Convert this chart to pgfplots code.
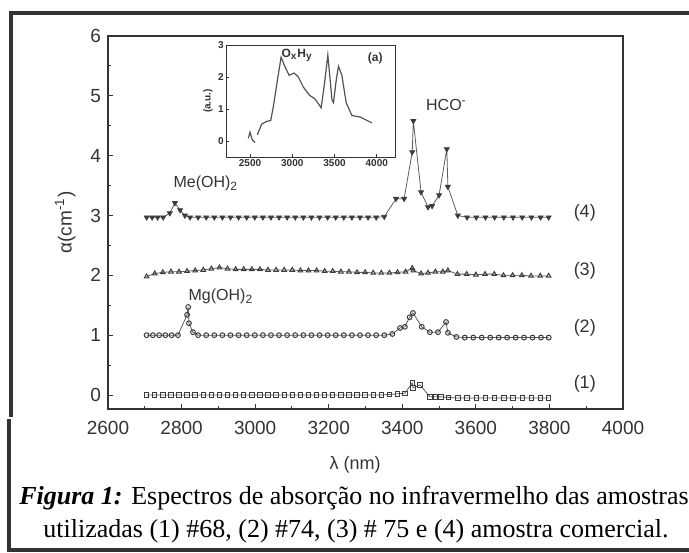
\documentclass[border=0pt]{standalone}
\usepackage{fontspec}
\setmainfont{Liberation Sans}
\newfontfamily\capfont{Liberation Serif}
\usepackage{pgfplots}
\pgfplotsset{compat=1.18}
\definecolor{ink}{HTML}{333333}
\definecolor{mk}{HTML}{3c3c3c}

\begin{document}
\begin{tikzpicture}
% page frame and caption, in pixel units of the reference
\begin{scope}[x=0.5pt,y=-0.5pt]
\path[use as bounding box] (0,0) rectangle (689,552);
\draw[line width=1.6pt,ink] (11,417) -- (11,13) -- (689,13);
\draw[line width=1.6pt,ink] (9,419) -- (9,550) -- (689,550);
\node[anchor=base,inner sep=0pt,font=\capfont\fontsize{13}{15}\selectfont] at (354,504)
  {\textbf{\textit{Figura 1:}} Espectros de absorção no infravermelho das amostras};
\node[anchor=base,inner sep=0pt,font=\capfont\fontsize{13}{15}\selectfont] at (356,537)
  {utilizadas (1) \#68, (2) \#74, (3) \# 75 e (4) amostra comercial.};
\end{scope}

\begin{axis}[
    at={(54pt,-204.5pt)}, anchor=south west,
    scale only axis, width=257.5pt, height=186.5pt,
    xmin=2600, xmax=4000, ymin=-0.234, ymax=6,
    xtick={2600,2800,...,4000}, ytick={0,1,...,6},
    minor x tick num=1, minor y tick num=1,
    xtick pos=bottom, ytick pos=left, tick align=inside,
    major tick length=2.5pt, minor tick length=1.4pt,
    axis line style={ink,line width=0.6pt},
    every tick/.style={ink,line width=0.5pt},
    /pgf/number format/assume math mode=true,
    /pgf/number format/1000 sep={},
    tick label style={font=\fontsize{9.5}{11}\selectfont,text=ink},
    xticklabel style={yshift=-2.6pt},
    clip=false,
]
\addplot[ink!80,line width=0.4pt,mark=triangle*,mark size=1.4pt,
  mark options={rotate=180,fill=mk,draw=mk,solid}] coordinates {
(2705,2.97)(2720,2.97)(2735,2.97)(2750,2.97)(2768,3.04)(2782,3.21)(2796,3.09)(2809,3.00)(2823,2.97)
(2845,2.97)(2867,2.97)(2889,2.97)(2911,2.97)(2933,2.97)(2955,2.97)(2977,2.97)(2999,2.97)
(3021,2.97)(3043,2.97)(3065,2.97)(3087,2.97)(3109,2.97)(3131,2.97)(3153,2.97)(3175,2.97)
(3197,2.97)(3219,2.97)(3241,2.97)(3263,2.97)(3285,2.97)(3307,2.97)(3329,2.97)(3351,2.98)
(3383,3.28)(3405,3.28)(3427,4.06)(3430,4.58)(3451,3.39)(3470,3.14)(3481,3.16)(3500,3.34)
(3521,4.11)(3524,3.48)(3551,3.00)(3576,2.97)(3601,2.97)(3626,2.97)(3651,2.97)(3676,2.97)
(3701,2.97)(3726,2.97)(3751,2.97)(3776,2.97)(3798,2.97)};
\addplot[ink!80,line width=0.4pt,mark=triangle,mark size=1.3pt,
  mark options={draw=mk,solid,line width=0.5pt}] coordinates {
(2705,1.98)(2727,2.03)(2749,2.05)(2771,2.06)(2793,2.06)(2815,2.07)(2837,2.08)(2859,2.09)
(2881,2.11)(2903,2.13)(2925,2.11)(2947,2.10)(2969,2.10)(2991,2.10)(3013,2.10)(3035,2.09)
(3057,2.09)(3079,2.09)(3101,2.09)(3123,2.08)(3145,2.08)(3167,2.08)(3189,2.07)(3211,2.07)
(3233,2.06)(3255,2.06)(3277,2.05)(3299,2.05)(3321,2.04)(3343,2.04)(3365,2.04)(3387,2.05)
(3409,2.06)(3427,2.12)(3430,2.08)(3451,2.03)(3470,2.04)(3490,2.06)(3510,2.06)(3524,2.08)
(3550,2.02)(3575,2.02)(3600,2.01)(3625,2.02)(3650,2.02)(3675,2.00)(3700,2.00)(3725,2.00)
(3750,1.99)(3775,1.99)(3798,1.99)};
\addplot[ink!80,line width=0.4pt,mark=o,mark size=1.2pt,
  mark options={draw=mk,solid,line width=0.5pt}] coordinates {
(2705,1.00)(2722,1.00)(2739,1.00)(2756,1.00)(2773,1.00)(2790,1.00)
(2815,1.34)(2818,1.47)(2820,1.20)(2831,1.05)
(2845,1.00)(2867,1.00)(2889,1.00)(2911,1.00)(2933,1.00)(2955,1.00)(2977,1.00)(2999,1.00)
(3021,1.00)(3043,1.00)(3065,1.00)(3087,1.00)(3109,1.00)(3131,1.00)(3153,1.00)(3175,1.00)
(3197,1.00)(3219,1.00)(3241,1.00)(3263,1.00)(3285,1.00)(3307,1.00)(3329,1.00)(3351,1.00)
(3373,1.02)(3394,1.12)(3407,1.14)(3420,1.30)(3429,1.37)(3453,1.14)(3475,1.05)(3497,1.05)
(3519,1.22)(3524,1.04)(3547,0.97)(3570,0.96)(3593,0.96)(3616,0.96)(3639,0.96)(3662,0.96)
(3685,0.96)(3708,0.96)(3731,0.96)(3754,0.96)(3777,0.96)(3798,0.96)};
\addplot[ink!80,line width=0.4pt,mark=square,mark size=1.1pt,
  mark options={draw=mk,solid,line width=0.5pt}] coordinates {
(2705,0.00)(2727,0.00)(2749,0.00)(2771,0.00)(2793,0.00)(2815,0.00)(2837,0.00)(2859,0.00)
(2881,0.00)(2903,0.00)(2925,0.00)(2947,0.00)(2969,0.00)(2991,0.00)(3013,0.00)(3035,0.00)
(3057,0.00)(3079,0.00)(3101,0.00)(3123,0.00)(3145,0.00)(3167,0.00)(3189,0.00)(3211,0.00)
(3233,0.00)(3255,0.00)(3277,0.00)(3299,0.00)(3321,0.00)(3343,0.00)(3365,0.01)(3387,0.02)
(3407,0.03)(3427,0.20)(3429,0.12)(3448,0.17)(3475,-0.03)(3490,-0.03)(3505,-0.03)(3525,-0.04)
(3551,-0.05)(3576,-0.05)(3601,-0.05)(3626,-0.05)(3651,-0.05)(3676,-0.05)(3701,-0.05)
(3726,-0.05)(3751,-0.05)(3776,-0.05)(3798,-0.05)};
\node[font=\fontsize{8}{9}\selectfont,text=ink] at (axis cs:2866,3.53) {Me(OH)\textsubscript{2}};
\node[font=\fontsize{8}{9}\selectfont,text=ink] at (axis cs:2907,1.65) {Mg(OH)\textsubscript{2}};
\node[font=\fontsize{8}{9}\selectfont,text=ink] at (axis cs:3520,4.85) {HCO\textsuperscript{-}};
\node[font=\fontsize{9}{10}\selectfont,text=ink] at (axis cs:3896,3.04) {(4)};
\node[font=\fontsize{9}{10}\selectfont,text=ink] at (axis cs:3896,2.08) {(3)};
\node[font=\fontsize{9}{10}\selectfont,text=ink] at (axis cs:3896,1.12) {(2)};
\node[font=\fontsize{9}{10}\selectfont,text=ink] at (axis cs:3896,0.18) {(1)};
\node[rotate=90,font=\fontsize{9.5}{11}\selectfont,text=ink] at (rel axis cs:-0.083,0.5) {α(cm\textsuperscript{-1})};
\node[font=\fontsize{9}{10}\selectfont,text=ink] at (rel axis cs:0.48,-0.15) {λ (nm)};
\end{axis}

% inset
\begin{axis}[
    at={(113pt,-78.5pt)}, anchor=south west,
    scale only axis, width=84.5pt, height=56pt,
    xmin=2216, xmax=4216, ymin=-0.48, ymax=3,
    xtick={2500,3000,3500,4000}, ytick={0,1,2,3},
    xtick pos=bottom, ytick pos=left, tick align=inside,
    major tick length=1.5pt,
    axis line style={ink,line width=0.5pt},
    every tick/.style={ink,line width=0.4pt},
    /pgf/number format/assume math mode=true,
    /pgf/number format/1000 sep={},
    tick label style={font=\bfseries\fontsize{5}{6}\selectfont,text=ink,inner sep=1pt},
    clip=false,
]
\addplot[ink!85,line width=0.6pt] coordinates {
(2480,0.10)(2500,0.29)(2528,0.05)(2559,-0.03)};
\addplot[ink!85,line width=0.6pt] coordinates {
(2587,0.21)(2638,0.54)(2698,0.63)(2745,0.65)(2777,1.10)(2824,1.90)(2868,2.62)(2915,2.32)
(2963,2.06)(3022,2.13)(3073,2.00)(3132,1.69)(3203,1.44)(3271,1.32)(3342,1.05)(3381,1.79)
(3421,2.69)(3449,1.90)(3470,1.30)(3488,1.21)(3520,1.90)(3547,2.34)(3587,2.06)(3638,1.21)
(3706,0.81)(3805,0.76)(3943,0.58)};
\node[font=\bfseries\fontsize{6}{7}\selectfont,text=ink] at (axis cs:3057,2.68) {O\textsubscript{x}H\textsubscript{y}};
\node[font=\bfseries\fontsize{6}{7}\selectfont,text=ink] at (axis cs:3983,2.59) {(a)};
\node[rotate=90,font=\bfseries\fontsize{5}{6}\selectfont,text=ink] at (rel axis cs:-0.107,0.5) {(a.u.)};
\end{axis}
\end{tikzpicture}
\end{document}
